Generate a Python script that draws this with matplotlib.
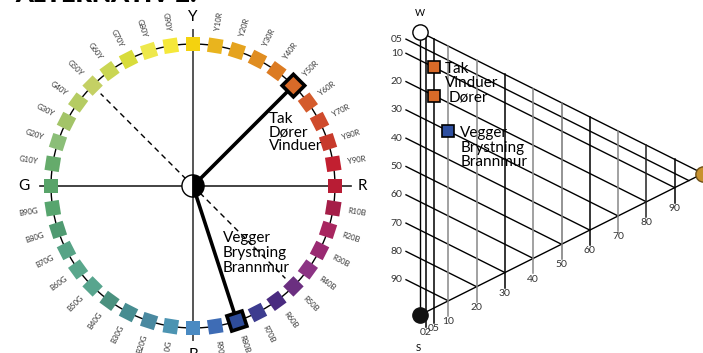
import numpy as np
import matplotlib.pyplot as plt
from matplotlib.patches import Rectangle, Wedge

plt.rcParams['font.family'] = ['Lato', 'DejaVu Sans']

# NCS hue circle, clockwise from Y
hue_names = ['Y', 'Y10R', 'Y20R', 'Y30R', 'Y40R', 'Y50R', 'Y60R', 'Y70R', 'Y80R', 'Y90R',
             'R', 'R10B', 'R20B', 'R30B', 'R40B', 'R50B', 'R60B', 'R70B', 'R80B', 'R90B',
             'B', 'B10G', 'B20G', 'B30G', 'B40G', 'B50G', 'B60G', 'B70G', 'B80G', 'B90G',
             'G', 'G10Y', 'G20Y', 'G30Y', 'G40Y', 'G50Y', 'G60Y', 'G70Y', 'G80Y', 'G90Y']
hue_colors = ['#f4d20f', '#e9b41e', '#e5a31f', '#e08d21', '#dc7b22', '#d86a28', '#d45b2c', '#cf4b2c', '#c73a2b', '#c21f30',
              '#b81c34', '#a51e48', '#a8265f', '#9a2a72', '#8c3484', '#6b2f80', '#4a2b80', '#3d3c8f', '#2e4c9a', '#3e6cb5',
              '#4a8ac2', '#4c94b2', '#4a89a0', '#478d91', '#4b917f', '#58a58e', '#5aa78c', '#57a386', '#4f9a71', '#57a56e',
              '#59a46a', '#65ab6b', '#8bbe78', '#a3c468', '#b5cc63', '#c4d064', '#cad653', '#d8dc3b', '#eee84c', '#f5e83a']
main_hues = ['Y', 'R', 'B', 'G']
selected_hues = ['Y50R', 'R80B']
circle_texts = ['Tak\nDører\nVinduer', 'Vegger\nBrystning\nBrannmur']

# NCS triangle
blackness_ticks = [5, 10, 20, 30, 40, 50, 60, 70, 80, 90]
blackness_labels = ['05', '10', '20', '30', '40', '50', '60', '70', '80', '90']
chroma_ticks = [2, 5, 10, 20, 30, 40, 50, 60, 70, 80, 90]
chroma_labels = ['02', '05', '10', '20', '30', '40', '50', '60', '70', '80', '90']
chroma_line_colors = ['black', 'black', '#888888', '#888888', 'black', '#888888', '#777777',
                      'black', '#888888', '#222222', 'black']
sample_names = ['Tak\nVinduer', 'Dører', 'Vegger\nBrystning\nBrannmur']
sample_blackness = [10, 20, 30]
sample_chroma = [5, 5, 10]
sample_colors = ['#d86a28', '#d86a28', '#2e4fa0']

W, H = 703, 353
fig = plt.figure(figsize=(W / 100, H / 100), dpi=100)

# title, mostly cropped away at the top edge
fig.text(15 / W, 1 - 1.5 / H, 'ALTERNATIV 2:', fontsize=18, fontweight='heavy', va='baseline')

# ---- hue circle (1 unit = circle radius)
cx, cy, rad = 193, 186, 142
axl = fig.add_axes([0, 0, 390 / W, 1])
axl.set_xlim(-cx / rad, (390 - cx) / rad)
axl.set_ylim(-(H - cy) / rad, cy / rad)
axl.axis('off')

axl.plot([0, 0], [-1.085, 1.10], color='#555555', lw=1.4, zorder=1)
axl.plot([-1.08, 1.11], [0, 0], color='#222222', lw=1.2, zorder=1)
t = np.linspace(0, 2 * np.pi, 400)
axl.plot(np.cos(t), np.sin(t), color='black', lw=1, zorder=2)

for ang in [135, -45]:
    a = np.radians(ang)
    axl.plot([0, 0.92 * np.cos(a)], [0, 0.92 * np.sin(a)], color='black', lw=1,
             dashes=(4, 3), zorder=2)

for name in selected_hues:
    a = np.radians(90 - 9 * hue_names.index(name))
    axl.plot([0, 0.95 * np.cos(a)], [0, 0.95 * np.sin(a)], color='black', lw=2.6, zorder=3)

for k, (name, col) in enumerate(zip(hue_names, hue_colors)):
    ang = 90 - 9 * k
    a = np.radians(ang)
    x, y = np.cos(a), np.sin(a)
    sel = name in selected_hues
    sz = 0.112 if sel else 0.102
    axl.add_patch(Rectangle((x - sz / 2, y - sz / 2), sz, sz, angle=ang, rotation_point='center',
                            fc=col, ec='black' if sel else 'none', lw=2.6 if sel else 0,
                            zorder=5 if sel else 4))
    if name in main_hues:
        axl.text(1.19 * x, 1.19 * y, name, fontsize=11, ha='center', va='center', clip_on=False)
    else:
        a180 = (ang + 180) % 360 - 180
        rot = a180 if -90 <= a180 <= 90 else a180 - 180
        axl.text(1.17 * x, 1.17 * y, name, fontsize=5.5, color='#333333', rotation=rot,
                 ha='center', va='center', rotation_mode='anchor')

axl.add_patch(Wedge((0, 0), 0.078, 90, 270, fc='white', ec='black', lw=1, zorder=6))
axl.add_patch(Wedge((0, 0), 0.078, -90, 90, fc='black', ec='black', lw=1, zorder=6))

axl.text(0.535, 0.52, circle_texts[0], fontsize=11, ha='left', va='top', linespacing=0.95, zorder=7)
axl.text(0.209, -0.32, circle_texts[1], fontsize=11, ha='left', va='top', linespacing=1.05, zorder=7)

# ---- NCS triangle (W top, S bottom, C right)
wx, wy, side = 420, 32, 283
axr = fig.add_axes([380 / W, 0, 323 / W, 1])
axr.set_xlim((380 - wx) / side, (W - wx) / side)
axr.set_ylim(-(H - wy) / side, wy / side)
axr.axis('off')


def tri(c, s):
    return c, -(s + c / 2)


axr.plot([0, 0], [0, -1], color='black', lw=1)
axr.plot(*zip(tri(0, 0), tri(1, 0)), color='black', lw=1)
axr.plot(*zip(tri(0, 1), tri(1, 0)), color='black', lw=1)

x0 = -14 / side
for s, lab in zip(blackness_ticks, blackness_labels):
    sv = s / 100
    xs = np.array([x0, 1 - sv])
    axr.plot(xs, -(sv + xs / 2), color='black', lw=1)
    axr.text(x0 - 0.012, -(sv + x0 / 2), lab, fontsize=7.5, color='#333333',
             ha='right', va='center')

for c, lab, col in zip(chroma_ticks, chroma_labels, chroma_line_colors):
    cv = c / 100
    bottom = -(1 - cv) - cv / 2 - 0.053
    axr.plot([cv, cv], [-cv / 2, bottom], color=col, lw=1.1)
    axr.text(cv, bottom - 0.004, lab, fontsize=7.5, color='#333333', ha='center', va='top')

axr.plot(0, 0, 'o', ms=11, mfc='white', mec='black', mew=1, zorder=5)
axr.plot(0, -1, 'o', ms=11, mfc='#111111', mec='#111111', zorder=5)
axr.plot(1, -0.5, 'o', ms=11, mfc='#c8922e', mec='#6e5018', mew=1, zorder=5, clip_on=False)
axr.text(0, 0.064, 'W', fontsize=7, ha='center', va='center')
axr.text(-0.007, -1.12, 'S', fontsize=7, ha='center', va='center')

offsets = [(11, 5), (14, -2), (12, 5)]
spacing = [0.95, 1.0, 1.05]
for name, s, c, col, off, ls in zip(sample_names, sample_blackness, sample_chroma,
                                    sample_colors, offsets, spacing):
    x, y = tri(c / 100, s / 100)
    axr.plot(x, y, 's', ms=8, mfc=col, mec='black', mew=1.2, zorder=6)
    axr.annotate(name, (x, y), xytext=off, textcoords='offset pixels', fontsize=11,
                 ha='left', va='top' if '\n' in name else 'center', linespacing=ls, zorder=7)

fig.savefig('out.png', dpi=100)
